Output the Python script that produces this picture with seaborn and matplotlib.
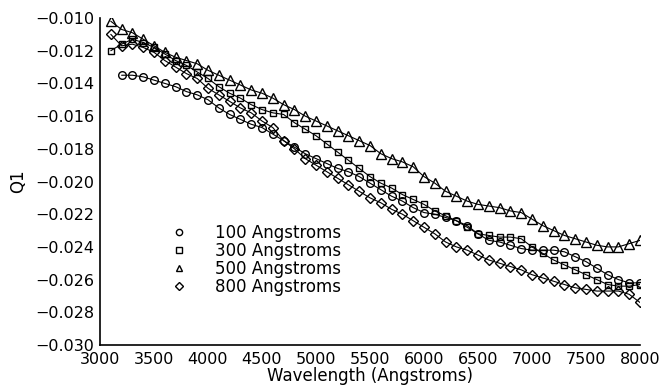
import numpy as np
import pandas as pd
import matplotlib
matplotlib.use("Agg")
import matplotlib.pyplot as plt
import matplotlib.ticker as mticker
from matplotlib.lines import Line2D
import seaborn as sns

sns.set_style("white")
plt.rcParams["font.family"] = ["DejaVu Sans"]
plt.rcParams["text.color"] = "black"
plt.rcParams["axes.labelcolor"] = "black"
plt.rcParams["xtick.color"] = "black"
plt.rcParams["ytick.color"] = "black"

# wavelength grids (Angstroms)
wl_100 = list(range(3200, 8100, 100))
wl_rest = list(range(3100, 8100, 100))

q1_100 = [
    -0.0135, -0.0135, -0.0136, -0.0138, -0.0140, -0.0142, -0.0145, -0.0147, -0.0150,
    -0.0155, -0.0159, -0.0162, -0.0165, -0.0167, -0.0171, -0.0175, -0.0179, -0.0183, -0.0186,
    -0.0189, -0.0192, -0.0194, -0.0197, -0.0201, -0.0205, -0.0209, -0.0212, -0.0216, -0.0219,
    -0.0220, -0.0222, -0.0224, -0.0227, -0.0232, -0.0236, -0.0237, -0.0239, -0.0241, -0.0242,
    -0.0242, -0.0242, -0.0243, -0.0246, -0.0249, -0.0253, -0.0257, -0.0260, -0.0262, -0.0262,
]
q1_300 = [
    -0.0120, -0.0116, -0.0113, -0.0115, -0.0118, -0.0122, -0.0126, -0.0129, -0.0133, -0.0137,
    -0.0142, -0.0146, -0.0149, -0.0153, -0.0156, -0.0158, -0.0159, -0.0164, -0.0168, -0.0172,
    -0.0177, -0.0182, -0.0187, -0.0192, -0.0197, -0.0201, -0.0204, -0.0208, -0.0211, -0.0214,
    -0.0218, -0.0221, -0.0224, -0.0228, -0.0232, -0.0233, -0.0234, -0.0234, -0.0235, -0.0240,
    -0.0244, -0.0248, -0.0251, -0.0254, -0.0257, -0.0260, -0.0263, -0.0264, -0.0264, -0.0263,
]
q1_500 = [
    -0.0102, -0.0107, -0.0109, -0.0113, -0.0117, -0.0121, -0.0124, -0.0126, -0.0128, -0.0132,
    -0.0135, -0.0138, -0.0141, -0.0144, -0.0146, -0.0149, -0.0153, -0.0156, -0.0160, -0.0163,
    -0.0166, -0.0169, -0.0172, -0.0175, -0.0178, -0.0183, -0.0186, -0.0188, -0.0191, -0.0197,
    -0.0201, -0.0206, -0.0209, -0.0212, -0.0214, -0.0215, -0.0216, -0.0218, -0.0219, -0.0223,
    -0.0227, -0.0230, -0.0233, -0.0235, -0.0237, -0.0239, -0.0240, -0.0240, -0.0238, -0.0236,
]
q1_800 = [
    -0.0110, -0.0117, -0.0116, -0.0118, -0.0121, -0.0126, -0.0130, -0.0134, -0.0137, -0.0143,
    -0.0147, -0.0151, -0.0155, -0.0158, -0.0163, -0.0167, -0.0175, -0.0180, -0.0186, -0.0190,
    -0.0194, -0.0198, -0.0202, -0.0206, -0.0210, -0.0213, -0.0217, -0.0220, -0.0224, -0.0228,
    -0.0232, -0.0237, -0.0240, -0.0242, -0.0245, -0.0248, -0.0250, -0.0252, -0.0254, -0.0257,
    -0.0259, -0.0261, -0.0263, -0.0265, -0.0266, -0.0267, -0.0267, -0.0267, -0.0269, -0.0274,
]

labels = ["100 Angstroms", "300 Angstroms", "500 Angstroms", "800 Angstroms"]
markers = ["o", "s", "^", "D"]
msizes = [5.5, 5.0, 7.0, 5.0]

series = [
    (wl_100, q1_100),
    (wl_rest, q1_300),
    (wl_rest, q1_500),
    (wl_rest, q1_800),
]

fig = plt.figure(figsize=(6.63, 3.87), dpi=100)
ax = fig.add_axes([100 / 663, 1 - 345 / 387, 540 / 663, 327 / 387])

for (wl, q), m, ms in zip(series, markers, msizes):
    df = pd.DataFrame({"wavelength": wl, "q1": q})
    sns.lineplot(data=df, x="wavelength", y="q1", ax=ax, color="black", lw=0.8,
                 marker=m, markersize=ms, markerfacecolor="none",
                 markeredgecolor="black", markeredgewidth=1.0)

ax.set_xlim(3000, 8000)
ax.set_ylim(-0.030, -0.010)
ax.xaxis.set_major_locator(mticker.MultipleLocator(500))
ax.xaxis.set_minor_locator(mticker.MultipleLocator(250))
ax.yaxis.set_major_locator(mticker.MultipleLocator(0.002))
ax.yaxis.set_minor_locator(mticker.MultipleLocator(0.001))
ax.yaxis.set_major_formatter(mticker.FuncFormatter(lambda v, _: f"{v:.3f}".replace("-", "\u2212")))
ax.tick_params(which="major", direction="in", length=5, width=1, color="black")
ax.tick_params(which="minor", direction="in", length=3, width=1, color="black")
ax.tick_params(axis="y", labelsize=11.5, pad=4)
ax.tick_params(axis="x", labelsize=11.5, pad=5)

for side in ["top", "right"]:
    ax.spines[side].set_visible(False)
for side in ["left", "bottom"]:
    ax.spines[side].set_color("black")
    ax.spines[side].set_linewidth(1.2)

ax.set_xlabel("Wavelength (Angstroms)", fontsize=12, labelpad=0)
ax.set_ylabel("Q1", fontsize=12, labelpad=6)

handles = [Line2D([], [], ls="none", marker=m, ms=4.5, mfc="none", mec="black", mew=1.0)
           for m in markers]
ax.legend(handles, labels, loc="upper left", bbox_to_anchor=(0.13, 0.37),
          frameon=False, fontsize=12, labelspacing=0.0, handlelength=1.0,
          handletextpad=1.7, borderpad=0, borderaxespad=0)

fig.savefig("out.png", dpi=100)
